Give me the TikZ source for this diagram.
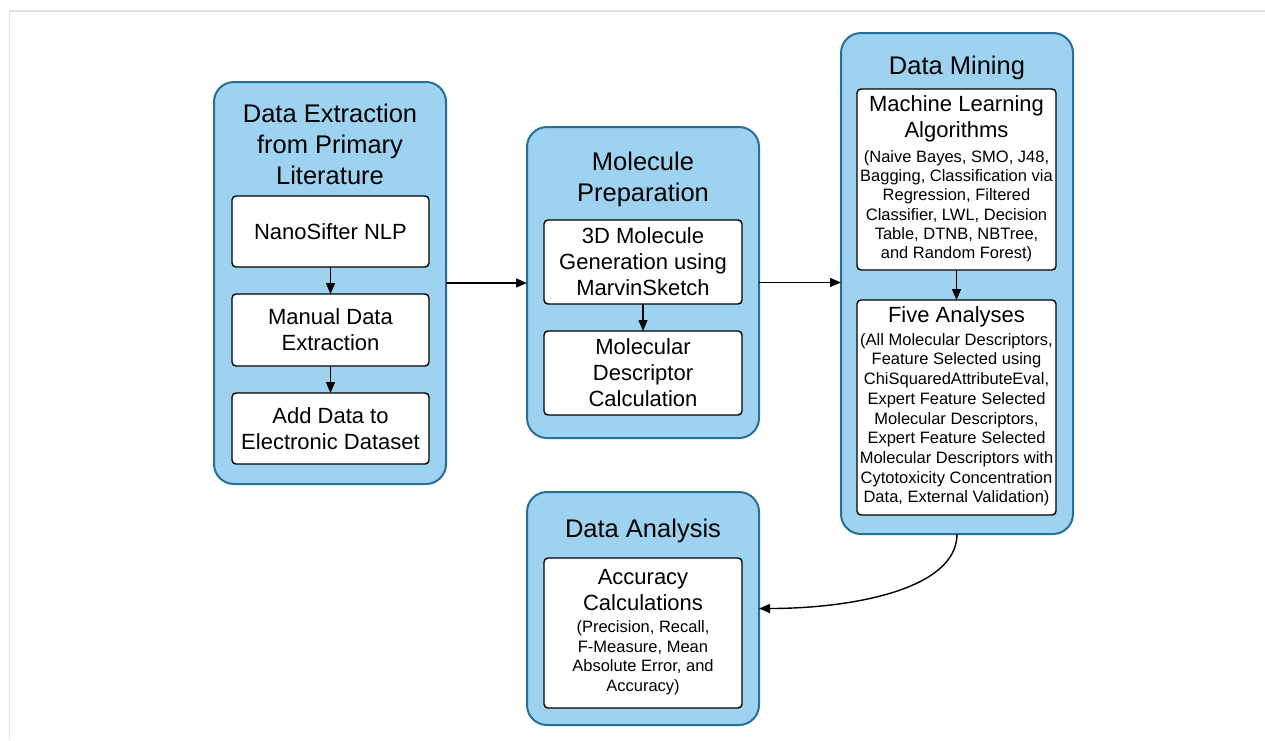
\documentclass[tikz,border=0pt]{standalone}
\usepackage{fontspec}
\setmainfont{Liberation Sans}
\usetikzlibrary{arrows.meta}
\definecolor{stagefill}{RGB}{157,211,241}
\definecolor{stageline}{RGB}{38,112,152}
\definecolor{framegray}{RGB}{224,224,224}
% smaller detail lines set as one centred block; #1 = line spacing
\newcommand{\detaillines}[2]{{\fontsize{16.5}{#1}\selectfont\begin{tabular}[t]{@{}c@{}}#2\end{tabular}}}

\begin{document}
\begin{tikzpicture}[x=1pt,y=-1pt,
  stage/.style={draw=stageline, fill=stagefill, line width=2pt, rounded corners=20pt,
                inner sep=0pt, outer sep=0pt},
  stagetitle/.style={align=center, inner sep=0pt, font=\fontsize{25.5}{31}\selectfont},
  task/.style={draw=black, fill=white, line width=1.4pt, rounded corners=4pt, align=center,
               inner sep=0pt, outer sep=0pt, font=\fontsize{22}{26}\selectfont},
  conn/.style={line width=1.4pt, -{Triangle[length=11pt,width=9pt]}},
]
\useasboundingbox (0,0) rectangle (1265,740);
% page frame
\draw[framegray, line width=1.5pt] (9.5,740) -- (9.5,11) -- (1265,11);

% stage 1: extraction
\node[stage, minimum width=232pt, minimum height=402pt] (extract) at (330,283) {};
\node[stagetitle] (extractT) at (330,144) {Data Extraction\\from Primary\\Literature};
\node[task, minimum width=197pt, minimum height=71pt] (nano) at (330.5,231.5) {NanoSifter NLP};
\node[task, minimum width=197pt, minimum height=72pt] (manual) at (330.5,330) {Manual Data\\Extraction};
\node[task, minimum width=197pt, minimum height=71pt] (adddata) at (330.5,428.5) {Add Data to\\Electronic Dataset};

% stage 2: molecule preparation
\node[stage, minimum width=232pt, minimum height=311pt] (prep) at (643,282.5) {};
\node[stagetitle] (prepT) at (643,179.5) {Molecule\\Preparation};
\node[task, minimum width=198pt, minimum height=84pt] (gen) at (643,262) {3D Molecule\\Generation using\\MarvinSketch};
\node[task, minimum width=198pt, minimum height=84pt] (descr) at (643,373) {Molecular\\Descriptor\\Calculation};

% stage 3: data mining
\node[stage, minimum width=232pt, minimum height=501pt] (mining) at (957,283.5) {};
\node[stagetitle] (miningT) at (957,68) {Data Mining};
\node[task, minimum width=199pt, minimum height=181pt] (ml) at (956.5,179.5)
  {Machine Learning\\Algorithms\\[-0.3pt]\detaillines{19.1}{(Naive Bayes, SMO, J48,\\Bagging, Classification via\\Regression, Filtered\\Classifier, LWL, Decision\\Table, DTNB, NBTree,\\and Random Forest)}};
\node[task, minimum width=199pt, minimum height=215pt] (five) at (956.5,407.5)
  {Five Analyses\\[-3pt]\detaillines{19.7}{(All Molecular Descriptors,\\Feature Selected using\\ChiSquaredAttributeEval,\\Expert Feature Selected\\Molecular Descriptors,\\Expert Feature Selected\\Molecular Descriptors with\\Cytotoxicity Concentration\\Data, External Validation)}};

% stage 4: data analysis
\node[stage, minimum width=232pt, minimum height=233pt] (analysis) at (643,608.5) {};
\node[stagetitle] (analysisT) at (643,530.7) {Data Analysis};
\node[task, minimum width=198pt, minimum height=150pt] (acc) at (643,633)
  {Accuracy\\Calculations\\[-3.4pt]\detaillines{19.4}{(Precision, Recall,\\F-Measure, Mean\\Absolute Error, and\\Accuracy)}};

% connectors inside stages
\draw[conn] (nano.south) -- (manual.north);
\draw[conn] (manual.south) -- (adddata.north);
\draw[conn] (gen.south) -- (descr.north);
\draw[conn] (ml.south) -- (five.north);

% connectors between stages
\draw[conn] (extract.east) -- (extract.east -| prep.west);
\draw[conn] (prep.east) -- (prep.east -| mining.west);
\draw[conn] (mining.south) .. controls +(0,56) and +(91,0) .. (analysis.east);
\end{tikzpicture}
\end{document}
